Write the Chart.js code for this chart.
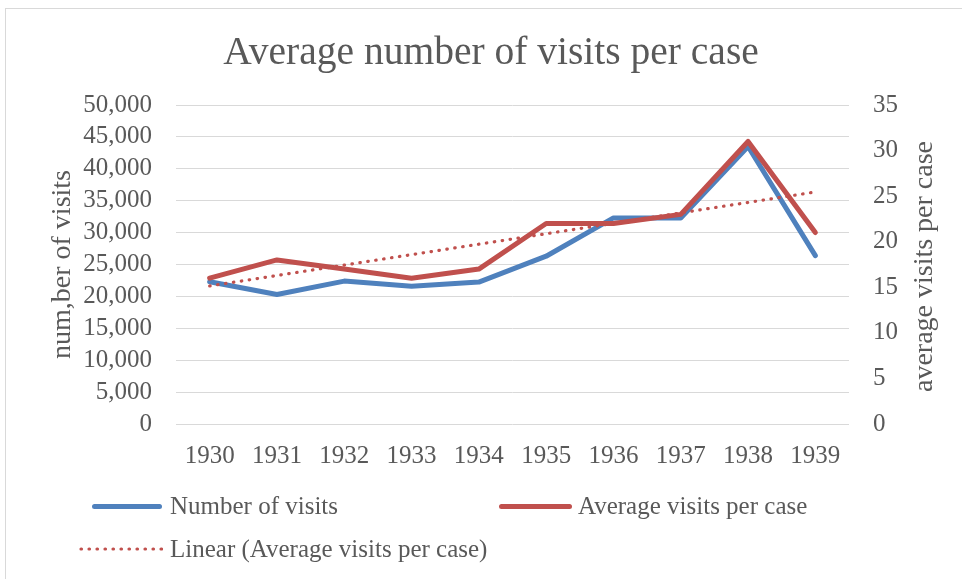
<!DOCTYPE html>
<html>
<head>
<meta charset="utf-8">
<script src="https://cdn.jsdelivr.net/npm/chart.js@4"></script>
<style>
  html, body { margin: 0; padding: 0; background: #fff; overflow: hidden; }
  #wrap { position: relative; width: 962px; height: 579px; }
  #frame { position: absolute; left: 5px; top: 8px; width: 1000px; height: 700px; border: 1px solid #d9d9d9; box-sizing: border-box; }
  canvas { position: absolute; left: 0; top: 0; }
  .lg { position: absolute; font-family: "Liberation Serif", serif; font-size: 25px; color: #595959; line-height: 30px; white-space: nowrap; }
  .sw { position: absolute; height: 0; }
</style>
</head>
<body>
<div id="wrap">
  <div id="frame"></div>
  <canvas id="c" width="962" height="579"></canvas>
  <div class="sw" style="left:92px; top:504px; width:70px; border-top:5px solid #4F81BD; border-radius:3px;"></div>
  <div class="lg" style="left:170px; top:491px;">Number of visits</div>
  <div class="sw" style="left:499px; top:504px; width:73px; border-top:5px solid #C0504D; border-radius:3px;"></div>
  <div class="lg" style="left:578px; top:491px;">Average visits per case</div>
  <canvas id="dots" width="84" height="6" style="left:79px; top:546px;"></canvas>
  <div class="lg" style="left:170px; top:534px;">Linear (Average visits per case)</div>
</div>
<script>
const years = ['1930', '1931', '1932', '1933', '1934', '1935', '1936', '1937', '1938', '1939'];
const numberOfVisits = [22300, 20300, 22400, 21600, 22250, 26300, 32300, 32300, 43500, 26400];
const avgVisitsPerCase = [16, 18, 17, 16, 17, 22, 22, 23, 31, 21];
const chartTitle = 'Average number of visits per case';
const leftAxisTitle = 'num,ber of visits';
const rightAxisTitle = 'average visits per case';

// Linear least-squares trendline of the average series (as Excel's "Linear" trendline)
function linearTrend(ys) {
  const n = ys.length;
  const xs = ys.map((_, i) => i);
  const mx = xs.reduce((a, b) => a + b, 0) / n;
  const my = ys.reduce((a, b) => a + b, 0) / n;
  let sxy = 0, sxx = 0;
  for (let i = 0; i < n; i++) { sxy += (xs[i] - mx) * (ys[i] - my); sxx += (xs[i] - mx) ** 2; }
  const slope = sxy / sxx, icpt = my - slope * mx;
  return xs.map(x => icpt + slope * x);
}
const trend = linearTrend(avgVisitsPerCase);

const FONT = '"Liberation Serif", serif';
const TXT = '#595959';
const RED = '#C0504D';
const BLUE = '#4F81BD';
const DOT = [0.5, 7.5];

// legend swatch for the dotted trendline
(function () {
  const d = document.getElementById('dots').getContext('2d');
  d.strokeStyle = RED; d.lineWidth = 3.2; d.lineCap = 'round'; d.setLineDash(DOT);
  d.beginPath(); d.moveTo(2, 3); d.lineTo(84, 3); d.stroke();
})();

const textPlugin = {
  id: 'extraText',
  afterDraw(chart) {
    const ctx = chart.ctx;
    const a = chart.chartArea;
    ctx.save();
    ctx.fillStyle = TXT;
    ctx.textAlign = 'center';
    ctx.textBaseline = 'middle';
    ctx.font = '39.5px ' + FONT;
    ctx.fillText(chartTitle, 491, 54);
    ctx.translate(925, (a.top + a.bottom) / 2 + 2);
    ctx.rotate(-Math.PI / 2);
    ctx.font = '28px ' + FONT;
    ctx.fillText(rightAxisTitle, 0, 0);
    ctx.restore();
  }
};

new Chart(document.getElementById('c'), {
  type: 'line',
  data: {
    labels: years,
    datasets: [
      { label: 'Linear (Average visits per case)', data: trend, yAxisID: 'y1', borderColor: RED, borderWidth: 3.2, borderDash: DOT, borderCapStyle: 'round', pointRadius: 0, fill: false, order: 0 },
      { label: 'Average visits per case', data: avgVisitsPerCase, yAxisID: 'y1', borderColor: RED, borderWidth: 5, pointRadius: 0, borderJoinStyle: 'round', borderCapStyle: 'round', fill: false, order: 1 },
      { label: 'Number of visits', data: numberOfVisits, yAxisID: 'y', borderColor: BLUE, borderWidth: 5, pointRadius: 0, borderJoinStyle: 'round', borderCapStyle: 'round', fill: false, order: 2 }
    ]
  },
  options: {
    responsive: false,
    animation: false,
    layout: { padding: { left: 0, right: 0, top: 105, bottom: 99 } },
    plugins: {
      legend: { display: false },
      tooltip: { enabled: false },
      title: { display: false }
    },
    scales: {
      x: {
        offset: true,
        grid: { display: false, offset: true },
        border: { display: false },
        ticks: { color: TXT, font: { family: FONT, size: 25 }, padding: 9, maxRotation: 0, autoSkip: false }
      },
      y: {
        position: 'left',
        min: 0, max: 50000,
        afterFit(s) { s.width = 176; },
        grid: { color: '#d9d9d9', lineWidth: 1, drawTicks: false },
        border: { display: false },
        ticks: { stepSize: 5000, color: TXT, font: { family: FONT, size: 25 }, padding: 24, autoSkip: false,
          callback: v => v.toLocaleString('en-US') },
        title: { display: true, text: leftAxisTitle, color: TXT, font: { family: FONT, size: 28 }, padding: { top: 46 } }
      },
      y1: {
        position: 'right',
        min: 0, max: 35,
        afterFit(s) { s.width = 113; },
        grid: { display: false, drawTicks: false },
        border: { display: false },
        ticks: { stepSize: 5, color: TXT, font: { family: FONT, size: 25 }, padding: 24, autoSkip: false }
      }
    }
  },
  plugins: [textPlugin]
});
</script>
</body>
</html>
